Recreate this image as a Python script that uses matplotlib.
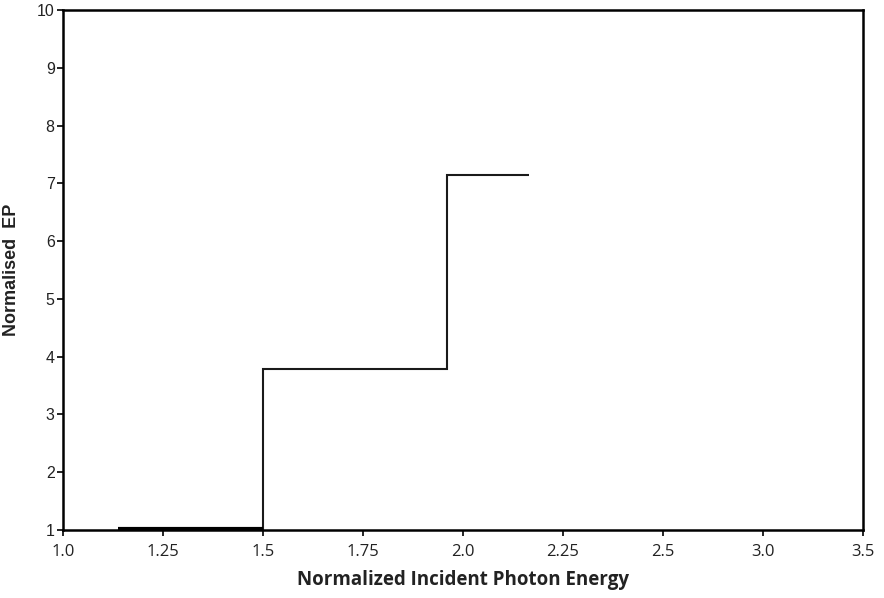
import matplotlib
matplotlib.use('Agg')
import matplotlib.pyplot as plt

# step edges (energy) and levels
edges = [1.1375, 1.5, 1.96, 2.165]
levels = [1.02, 3.79, 7.14]

xticks = [1.0, 1.25, 1.5, 1.75, 2.0, 2.25, 2.5, 2.75, 3.0]
xticklabels = ['1.0', '1.25', '1.5', '1.75', '2.0', '2.25', '2.5', '3.0', '3.5']
yticks = list(range(1, 11))

fig = plt.figure(figsize=(8.84, 5.98), dpi=100)
ax = fig.add_axes([0.0713, 0.1137, 0.905, 0.8696])

ax.stairs(levels, edges, baseline=None, color='#1a1a1a', lw=1.5)
# thicker first segment
ax.plot(edges[:2], [levels[0], levels[0]], color='black', lw=3, solid_capstyle='butt')

ax.set_xlim(1.0, 3.0)
ax.set_ylim(1, 10)
ax.set_xticks(xticks)
ax.set_xticklabels(xticklabels, fontfamily='Open Sans', fontsize=12, color='#222222')
ax.set_yticks(yticks)
ax.set_yticklabels([str(v) for v in yticks], fontfamily='Liberation Sans', fontsize=11.5,
                   color='#222222')
ax.tick_params(length=4, width=1.2, direction='out', pad=2)
ax.tick_params(axis='x', pad=6)

for s in ax.spines.values():
    s.set_linewidth(1.8)

ax.set_xlabel('Normalized Incident Photon Energy', fontfamily='Open Sans',
              fontweight='bold', fontsize=13.5, labelpad=7, color='#222222')
ax.set_ylabel('Normalised  EP', fontfamily='Liberation Sans',
              fontweight='bold', fontsize=13, labelpad=12, color='#222222')

fig.savefig('out.png', dpi=100)
